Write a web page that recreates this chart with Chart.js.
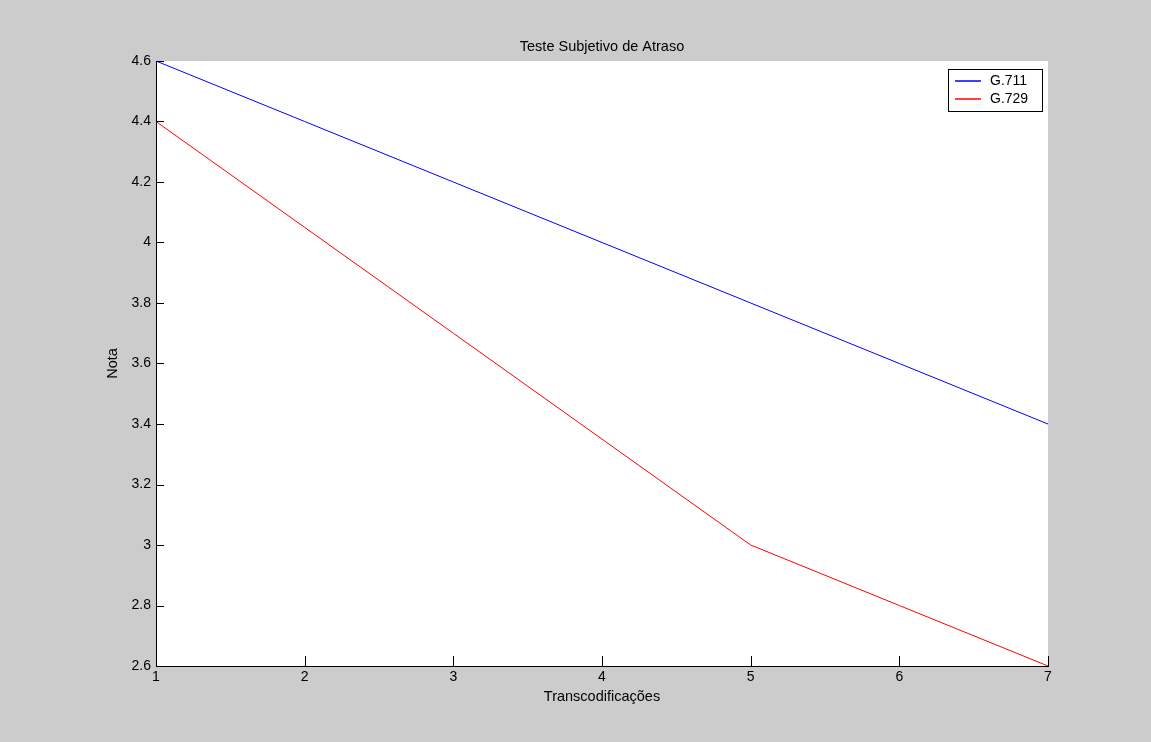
<!DOCTYPE html>
<html>
<head>
<meta charset="utf-8">
<script src="https://cdn.jsdelivr.net/npm/chart.js@4.4.4/dist/chart.umd.min.js"></script>
<style>
  html, body { margin: 0; padding: 0; background: #cccccc; }
  #wrap { width: 1151px; height: 742px; }
</style>
</head>
<body>
<div id="wrap"><canvas id="chart" width="1151" height="742"></canvas></div>
<script>
const transcodings = [1, 2, 3, 4, 5, 6, 7];
const g711 = [4.6, 4.4, 4.2, 4.0, 3.8, 3.6, 3.4];
const g729 = [4.4, 4.05, 3.7, 3.35, 3.0, 2.8, 2.6];
const yTicks = [2.6, 2.8, 3.0, 3.2, 3.4, 3.6, 3.8, 4.0, 4.2, 4.4, 4.6];
const seriesLabels = ["G.711", "G.729"];
const seriesColors = ["#0000ff", "#ff0000"];

const FONT = "Arial, 'Liberation Sans', sans-serif";

// white plot area, inward ticks, titles and a boxed legend
const matlabStyle = {
    id: "matlabStyle",
    beforeDraw(chart) {
        const {ctx, chartArea: a} = chart;
        ctx.save();
        ctx.fillStyle = "#ffffff";
        ctx.fillRect(a.left, a.top, a.right - a.left, a.bottom - a.top);
        ctx.restore();
    },
    afterDraw(chart) {
        const {ctx, chartArea: a, scales} = chart;
        ctx.save();
        ctx.strokeStyle = "#000";
        ctx.lineWidth = 1;
        ctx.beginPath();
        transcodings.forEach(v => {
            const x = Math.round(scales.x.getPixelForValue(v)) + 0.5;
            ctx.moveTo(x, a.bottom);
            ctx.lineTo(x, a.bottom - 10);
        });
        yTicks.forEach(v => {
            const y = Math.round(scales.y.getPixelForValue(v)) + 0.5;
            ctx.moveTo(a.left, y);
            ctx.lineTo(a.left + 8, y);
        });
        ctx.stroke();

        ctx.fillStyle = "#000";
        ctx.font = "14.5px " + FONT;
        ctx.textAlign = "center";
        ctx.textBaseline = "middle";
        const cx = (a.left + a.right) / 2;
        ctx.fillText("Teste Subjetivo de Atraso", cx, 47);
        ctx.fillText("Transcodificações", cx, 697);
        ctx.save();
        ctx.translate(113, (a.top + a.bottom) / 2);
        ctx.rotate(-Math.PI / 2);
        ctx.fillText("Nota", 0, 0);
        ctx.restore();

        // legend
        const lx = 948, ly = 69, lw = 94, lh = 42;
        ctx.fillStyle = "#fff";
        ctx.fillRect(lx, ly, lw, lh);
        ctx.strokeStyle = "#000";
        ctx.strokeRect(lx + 0.5, ly + 0.5, lw, lh);
        ctx.textAlign = "left";
        ctx.font = "14px " + FONT;
        seriesLabels.forEach((label, i) => {
            const y = ly + 12 + i * 18;
            ctx.strokeStyle = seriesColors[i];
            ctx.lineWidth = 1.5;
            ctx.beginPath();
            ctx.moveTo(lx + 7, y);
            ctx.lineTo(lx + 33, y);
            ctx.stroke();
            ctx.fillStyle = "#000";
            ctx.fillText(label, lx + 42, y);
        });
        ctx.restore();
    }
};

new Chart(document.getElementById("chart"), {
    type: "line",
    data: {
        datasets: [
            {
                label: seriesLabels[0],
                data: transcodings.map((x, i) => ({x, y: g711[i]})),
                borderColor: seriesColors[0],
                borderWidth: 1,
                pointRadius: 0,
                tension: 0,
            },
            {
                label: seriesLabels[1],
                data: transcodings.map((x, i) => ({x, y: g729[i]})),
                borderColor: seriesColors[1],
                borderWidth: 1,
                pointRadius: 0,
                tension: 0,
            },
        ],
    },
    options: {
        responsive: false,
        animation: false,
        layout: {padding: {top: 61, right: 103, left: 0, bottom: 0}},
        plugins: {legend: {display: false}, title: {display: false}, tooltip: {enabled: false}},
        scales: {
            x: {
                type: "linear",
                min: 1,
                max: 7,
                afterFit: s => { s.height = 76; },
                afterBuildTicks: s => { s.ticks = transcodings.map(v => ({value: v})); },
                grid: {display: false, drawTicks: false},
                border: {display: true, color: "#000", width: 1},
                ticks: {padding: 3, color: "#000", font: {family: FONT, size: 14}, maxRotation: 0},
            },
            y: {
                min: 2.6,
                max: 4.6,
                afterFit: s => { s.width = 156; },
                afterBuildTicks: s => { s.ticks = yTicks.map(v => ({value: v})); },
                grid: {display: false, drawTicks: false},
                border: {display: true, color: "#000", width: 1},
                ticks: {
                    padding: 5,
                    color: "#000",
                    font: {family: FONT, size: 14},
                    callback: v => String(Number(v.toFixed(1))),
                },
            },
        },
    },
    plugins: [matlabStyle],
});
</script>
</body>
</html>
